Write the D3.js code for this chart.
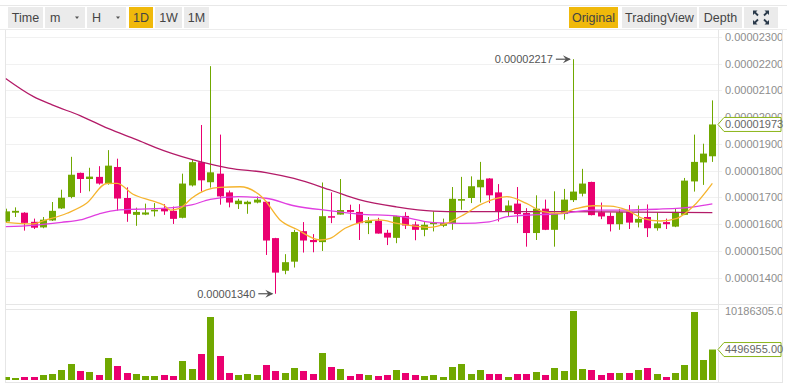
<!DOCTYPE html>
<html lang="en">
<head>
<meta charset="utf-8" />
<title>Kline</title>
<script src="https://cdn.jsdelivr.net/npm/d3@7"></script>
<style>
  body { margin: 0; background: #fff; }
  svg { display: block; font-family: "Liberation Sans", Arial, sans-serif; }
</style>
</head>
<body>
<script>
// prices in units of 1e-8
const opens  = [1610,1643,1643,1609,1588,1614,1659,1702,1792,1769,1777,1750,1814,1698,1635,1636,1648,1659,1650,1624,1745,1832,1757,1789,1719,1675,1675,1681,1684,1548,1426,1460,1574,1541,1533,1630,1636,1653,1646,1604,1613,1568,1549,1631,1599,1579,1600,1594,1603,1688,1698,1738,1771,1719,1648,1677,1642,1567,1658,1579,1638,1690,1714,1758,1645,1631,1600,1646,1606,1627,1585,1608,1591,1635,1760,1831,1854];
const highs  = [1658,1663,1645,1621,1627,1683,1729,1852,1793,1811,1817,1877,1845,1738,1662,1677,1679,1675,1666,1789,1842,1971,2191,1935,1726,1695,1688,1704,1686,1549,1488,1579,1608,1563,1756,1719,1769,1673,1675,1627,1624,1579,1631,1645,1610,1610,1648,1621,1739,1777,1779,1833,1772,1750,1689,1739,1660,1708,1692,1723,1732,2217,1807,1759,1681,1644,1657,1672,1670,1674,1644,1621,1658,1773,1935,1901,2063];
const lows   = [1605,1627,1576,1582,1585,1612,1657,1697,1717,1723,1748,1748,1651,1609,1594,1634,1629,1635,1601,1622,1741,1722,1737,1673,1663,1657,1639,1678,1485,1340,1413,1438,1494,1495,1500,1604,1636,1615,1541,1563,1565,1522,1529,1582,1540,1555,1573,1589,1579,1654,1679,1681,1679,1610,1629,1604,1516,1541,1578,1516,1617,1683,1704,1633,1619,1573,1579,1582,1588,1552,1576,1582,1589,1634,1722,1747,1833];
const closes = [1648,1650,1605,1587,1617,1650,1699,1785,1769,1778,1752,1819,1696,1639,1646,1644,1654,1648,1620,1752,1832,1764,1794,1704,1681,1688,1684,1692,1539,1419,1458,1571,1539,1533,1630,1627,1653,1646,1604,1614,1565,1550,1630,1595,1579,1598,1606,1604,1695,1694,1742,1766,1708,1648,1670,1638,1567,1658,1579,1640,1692,1722,1752,1634,1629,1600,1645,1606,1620,1585,1603,1600,1646,1763,1833,1864,1973];
const volumes = [443000,295000,443000,443000,738000,886000,1476000,2362000,1329000,1181000,738000,3248000,2067000,1033000,886000,590000,590000,738000,590000,2805000,1624000,3838000,9300000,3543000,1033000,738000,886000,738000,2214000,1329000,1033000,1772000,1329000,886000,3986000,1919000,1624000,590000,886000,738000,590000,738000,1476000,1033000,738000,590000,738000,443000,1919000,2362000,886000,1476000,886000,886000,443000,886000,886000,1181000,738000,1772000,1329000,10186305,1624000,1476000,738000,1033000,1033000,1033000,1476000,1772000,886000,443000,1033000,2214000,10040000,2953000,4496955];

// moving averages: [candle index, price]
const ma7 = [[0,1607],[3,1601],[4,1612],[6.6,1641],[8.7,1678],[10.9,1753],[12,1753],[13.7,1712],[15.8,1687],[17,1672],[17.7,1653],[18.7,1659],[20,1697],[21.6,1728],[23,1738],[25.2,1740],[27.7,1697],[29.5,1616],[31.3,1581],[33.8,1541],[34.9,1547],[36.5,1585],[38.4,1609],[40.2,1616],[42.1,1603],[44.5,1591],[45.6,1588],[47.4,1603],[49.2,1634],[51,1672],[52.8,1697],[53.9,1703],[56,1678],[57.8,1647],[59.6,1641],[61.4,1659],[63.2,1669],[65,1668],[66.8,1653],[68.5,1622],[70.4,1612],[72.2,1622],[73.9,1665],[76,1753]];
const ma25 = [[0,1591],[3,1596],[6,1607],[8,1616],[10,1638],[12,1653],[14,1656],[18,1662],[20,1672],[22,1693],[25,1703],[28,1697],[31,1669],[35,1650],[38,1638],[42,1631],[46,1606],[49,1603],[52,1609],[54,1628],[60,1641],[63,1653],[67,1653],[70,1656],[74,1665],[76,1676]];
const ma99 = [[0,2145],[3,2077],[5,2046],[8,2006],[11,1958],[14,1917],[17,1875],[21,1833],[24,1810],[28,1793],[31,1771],[35,1727],[38,1692],[42,1665],[46,1649],[49,1647],[60,1647],[68,1645],[76,1643]];

const priceTicks = [1400,1500,1600,1700,1800,1900,2000,2100,2200,2300];
const leftButtons = ["Time", "m", "H", "1D", "1W", "1M"];
const rightButtons = ["Original", "TradingView", "Depth"];
const activeButtons = ["1D", "Original"];

const width = 787, height = 385;
const upColor = "#70a800", downColor = "#ea0070";
const fmtPrice = v => (v / 1e8).toFixed(8);

const svg = d3.create("svg")
    .attr("width", width)
    .attr("height", height)
    .attr("viewBox", [0, 0, width, height]);

// ---- toolbar
svg.append("line").attr("x1", 0).attr("x2", width).attr("y1", 5.5).attr("y2", 5.5).attr("stroke", "#e8e8e8");
svg.append("line").attr("x1", 0).attr("x2", width).attr("y1", 29.5).attr("y2", 29.5).attr("stroke", "#ececec");

const leftBoxes = [[8, 43], [45, 85], [87, 126], [129, 153], [155, 182], [184, 209]];
const rightBoxes = [[569, 618], [622, 697], [699, 742]];

function button(label, [x0, x1], dropdown) {
  const active = activeButtons.includes(label);
  svg.append("rect")
      .attr("x", x0).attr("y", 7).attr("width", x1 - x0).attr("height", 21)
      .attr("fill", active ? "#f0b90b" : "#ebebeb");
  svg.append("text")
      .attr("x", dropdown ? x0 + 5 : (x0 + x1) / 2)
      .attr("y", 22)
      .attr("text-anchor", dropdown ? "start" : "middle")
      .attr("font-size", 12.5)
      .attr("fill", "#444")
      .text(label);
  if (dropdown) {
    const cx = x1 - 8;
    svg.append("path")
        .attr("d", `M${cx - 2},16.5L${cx + 2},16.5L${cx},19Z`)
        .attr("fill", "#555");
  }
}
leftButtons.forEach((b, i) => button(b, leftBoxes[i], b === "m" || b === "H"));
rightButtons.forEach((b, i) => button(b, rightBoxes[i], false));

// fullscreen icon
svg.append("rect").attr("x", 744).attr("y", 7).attr("width", 34).attr("height", 21).attr("fill", "#ebebeb");
const icon = svg.append("g").attr("transform", "translate(761,17.5)").attr("fill", "#2b3a4a");
[[-1, -1], [1, -1], [-1, 1], [1, 1]].forEach(([sx, sy]) => {
  icon.append("path")
      .attr("d", `M${sx * 8},${sy * 7}L${sx * 3.5},${sy * 7}L${sx * 8},${sy * 2.5}Z`);
  icon.append("line")
      .attr("x1", sx * 6.5).attr("y1", sy * 5.5).attr("x2", sx * 3).attr("y2", sy * 2)
      .attr("stroke", "#2b3a4a").attr("stroke-width", 1.8);
});

// ---- scales
const x = d3.scaleBand()
    .domain(d3.range(closes.length))
    .range([1, 717])
    .paddingInner(0.3)
    .paddingOuter(0.15);
const cx = i => x(Math.floor(i)) + x.bandwidth() / 2 + (i % 1) * x.step();

const y = d3.scaleLinear().domain([1400, 2300]).range([277.7, 37]);
const yv = d3.scaleLinear().domain([0, 10186305]).range([380, 311]);

svg.append("clipPath").attr("id", "plot")
  .append("rect").attr("x", 5.5).attr("y", 30).attr("width", 712).attr("height", 352);
svg.append("clipPath").attr("id", "axis")
  .append("rect").attr("x", 718).attr("y", 30).attr("width", 64).attr("height", 352);

// ---- frames and grid
svg.append("g")
    .attr("stroke", "#f1f1f1")
  .selectAll("line")
  .data(priceTicks)
  .join("line")
    .attr("x1", 5).attr("x2", 722)
    .attr("y1", d => Math.round(y(d)) + 0.5).attr("y2", d => Math.round(y(d)) + 0.5);

const frame = svg.append("g").attr("stroke", "#e6e6e6").attr("fill", "none");
frame.append("line").attr("x1", 5.5).attr("x2", 5.5).attr("y1", 30).attr("y2", 382);
frame.append("line").attr("x1", 718.5).attr("x2", 718.5).attr("y1", 30).attr("y2", 382);
frame.append("line").attr("x1", 782.5).attr("x2", 782.5).attr("y1", 30).attr("y2", 382);
frame.append("line").attr("x1", 5).attr("x2", 783).attr("y1", 304.5).attr("y2", 304.5);
frame.append("line").attr("x1", 5).attr("x2", 718).attr("y1", 309.5).attr("y2", 309.5);
frame.append("line").attr("x1", 5).attr("x2", 783).attr("y1", 382.5).attr("y2", 382.5);

// ---- price axis labels
const axis = svg.append("g")
    .attr("clip-path", "url(#axis)")
    .attr("font-size", 11)
    .attr("fill", "#8d8d8d");
axis.selectAll("text.price")
  .data(priceTicks)
  .join("text")
    .attr("class", "price")
    .attr("x", 725)
    .attr("y", d => y(d))
    .attr("dy", "0.35em")
    .text(fmtPrice);
axis.append("text")
    .attr("x", 725).attr("y", yv(d3.max(volumes))).attr("dy", "0.35em")
    .text(d3.max(volumes).toFixed(2));

// ---- candles
const plot = svg.append("g").attr("clip-path", "url(#plot)");
const up = i => closes[i] >= opens[i];

const candle = plot.append("g")
  .selectAll("g")
  .data(d3.range(closes.length))
  .join("g")
    .attr("fill", i => up(i) ? upColor : downColor)
    .attr("stroke", i => up(i) ? upColor : downColor);

candle.append("line")
    .attr("x1", i => Math.round(cx(i)) + 0.5).attr("x2", i => Math.round(cx(i)) + 0.5)
    .attr("y1", i => y(highs[i])).attr("y2", i => y(lows[i]));
candle.append("rect")
    .attr("stroke", "none")
    .attr("x", i => Math.round(cx(i) - 3))
    .attr("width", 7)
    .attr("y", i => y(Math.max(opens[i], closes[i])))
    .attr("height", i => Math.max(1.5, Math.abs(y(opens[i]) - y(closes[i]))));

// ---- moving averages
const line = d3.line()
    .x(d => cx(d[0]))
    .y(d => y(d[1]))
    .curve(d3.curveMonotoneX);
[[ma99, "#b31b68"], [ma25, "#e03ee0"], [ma7, "#f5b42e"]].forEach(([data, color]) => {
  plot.append("path")
      .attr("d", line(data))
      .attr("fill", "none")
      .attr("stroke", color)
      .attr("stroke-width", 1.3);
});

// ---- volume
plot.append("g")
  .selectAll("rect")
  .data(volumes)
  .join("rect")
    .attr("x", (d, i) => Math.round(cx(i) - 3))
    .attr("width", 7)
    .attr("y", d => yv(d))
    .attr("height", d => yv(0) - yv(d))
    .attr("fill", (d, i) => up(i) ? upColor : downColor);

// ---- high / low annotations
function annotate(i, value) {
  const px = cx(i), py = y(value);
  const g = svg.append("g").attr("fill", "#555");
  g.append("line")
      .attr("x1", px - 17).attr("x2", px - 3).attr("y1", py).attr("y2", py)
      .attr("stroke", "#555").attr("stroke-width", 1.2);
  g.append("path")
      .attr("d", `M${px - 2},${py}L${px - 10},${py - 4}L${px - 7},${py}L${px - 10},${py + 4}Z`);
  g.append("text")
      .attr("x", px - 20).attr("y", py).attr("dy", "0.35em")
      .attr("text-anchor", "end")
      .attr("font-size", 11)
      .text(fmtPrice(value));
}
const hi = d3.maxIndex(highs), lo = d3.minIndex(lows);
annotate(hi, highs[hi]);
annotate(lo, lows[lo]);

// ---- last value tags
function tag(py, label) {
  svg.append("path")
      .attr("d", `M718,${py}L724,${py - 7}L781,${py - 7}L781,${py + 7}L724,${py + 7}Z`)
      .attr("fill", "#fff")
      .attr("stroke", "#8bb51a");
  svg.append("text")
      .attr("x", 725).attr("y", py).attr("dy", "0.35em")
      .attr("font-size", 11).attr("fill", "#666")
      .text(label);
}
const last = closes.length - 1;
tag(y(closes[last]), fmtPrice(closes[last]));
tag(yv(volumes[last]), volumes[last].toFixed(2));

document.body.appendChild(svg.node());
</script>
</body>
</html>
